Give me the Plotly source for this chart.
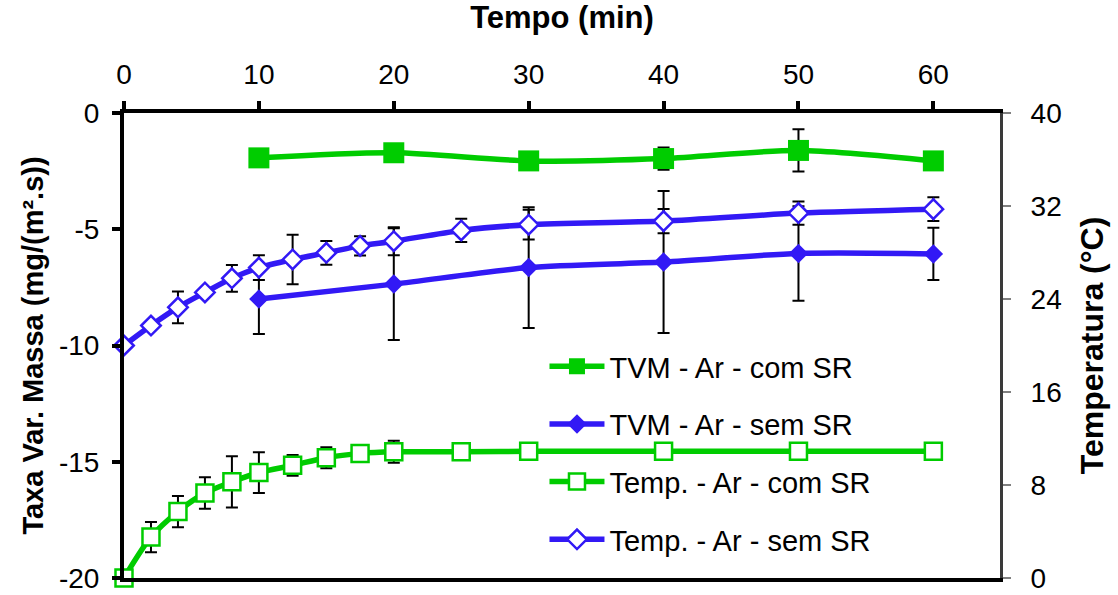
import plotly.graph_objects as go

# ---- data ----
time_tvm = [10, 20, 30, 40, 50, 60]
time_temp = [0, 2, 4, 6, 8, 10, 12.5, 15, 17.5, 20, 25, 30, 40, 50, 60]

tvm_com = [-1.93, -1.71, -2.06, -1.96, -1.61, -2.06]
tvm_com_err = [0, 0, 0, 0.48, 0.91, 0]

tvm_sem = [-8.0, -7.36, -6.65, -6.41, -6.04, -6.06]
tvm_sem_err = [1.5, 2.4, 2.6, 3.05, 2.03, 1.12]

temp_com = [0, 3.52, 5.71, 7.31, 8.27, 9.07, 9.69, 10.35, 10.72, 10.86, 10.85, 10.9, 10.9, 10.9, 10.9]
temp_com_err = [0, 1.3, 1.35, 1.35, 2.2, 1.75, 0.9, 0.9, 0, 0.95, 0, 0, 0, 0, 0]

temp_sem = [20.0, 21.72, 23.28, 24.56, 25.78, 26.7, 27.4, 27.97, 28.57, 28.97, 29.9, 30.39, 30.7, 31.39, 31.73]
temp_sem_err = [0, 0, 1.37, 0, 1.15, 1.07, 2.13, 1.03, 0.83, 1.2, 1.0, 1.28, 1.05, 1.0, 1.02]

x_ticks = [0, 10, 20, 30, 40, 50, 60]
y_ticks = [-20, -15, -10, -5, 0]
y_ticktext = ["-20", "-15", "-10", "-5", "0"]
y2_ticks = [0, 8, 16, 24, 32, 40]

names = ["TVM - Ar - com SR", "TVM - Ar - sem SR", "Temp. - Ar - com SR", "Temp. - Ar - sem SR"]

GREEN = "#00CC00"
BLUE = "#3219F5"
FONT = "Liberation Sans, Arial, sans-serif"


def err(a):
    return [v if v else None for v in a]


def ebar(a):
    return dict(type="data", array=err(a), color="black", thickness=2, width=6, visible=True)


fig = go.Figure()

fig.add_trace(go.Scatter(
    x=time_tvm, y=tvm_com, name=names[0], legendgroup="a", yaxis="y",
    mode="lines+markers", line=dict(color=GREEN, width=5.5, shape="spline", smoothing=0.8),
    marker=dict(symbol="square", size=21, color=GREEN, line=dict(color=GREEN, width=0)),
    error_y=ebar(tvm_com_err), cliponaxis=False))

fig.add_trace(go.Scatter(
    x=time_tvm, y=tvm_sem, name=names[1], legendgroup="b", yaxis="y",
    mode="lines+markers", line=dict(color=BLUE, width=5.5, shape="spline", smoothing=0.8),
    marker=dict(symbol="diamond", size=15, color=BLUE, line=dict(color=BLUE, width=0)),
    error_y=ebar(tvm_sem_err), cliponaxis=False))

fig.add_trace(go.Scatter(
    x=time_temp, y=temp_com, name=names[2], legendgroup="c", yaxis="y2",
    mode="lines+markers", line=dict(color=GREEN, width=5.5, shape="spline", smoothing=0.8),
    marker=dict(symbol="square", size=17, color="white", line=dict(color=GREEN, width=2.5)),
    error_y=ebar(temp_com_err), cliponaxis=False))

fig.add_trace(go.Scatter(
    x=time_temp, y=temp_sem, name=names[3], legendgroup="d", yaxis="y2",
    mode="lines+markers", line=dict(color=BLUE, width=5.5, shape="spline", smoothing=0.8),
    marker=dict(symbol="diamond", size=15, color="white", line=dict(color=BLUE, width=2.5)),
    error_y=ebar(temp_sem_err), cliponaxis=False))

fig.update_layout(
    width=1118, height=595,
    margin=dict(l=124, r=118, t=113, b=17, autoexpand=False),
    paper_bgcolor="white", plot_bgcolor="white",
    font=dict(family=FONT, size=28, color="black"),
    showlegend=True,
    legend=dict(x=0.48, y=0.51, xanchor="left", yanchor="top",
                bgcolor="rgba(0,0,0,0)", font=dict(size=29, family=FONT),
                tracegroupgap=17, itemwidth=55, traceorder="grouped"),
    xaxis=dict(side="top", range=[0, 64.94], tickvals=x_ticks, showgrid=False, zeroline=False,
               showline=True, linecolor="black", linewidth=4, mirror=True,
               ticks="outside", ticklen=8, tickwidth=4, tickcolor="black",
               ticklabelstandoff=6, ticklabeloverflow="allow", automargin=False,
               title=dict(text="Tempo (min)", font=dict(size=31, weight="bold"), standoff=23)),
    yaxis=dict(range=[-20, 0], tickvals=y_ticks, ticktext=y_ticktext, showgrid=False, zeroline=False,
               showline=True, linecolor="black", linewidth=4,
               ticks="outside", ticklen=8, tickwidth=4, tickcolor="black",
               ticklabelstandoff=7, ticklabeloverflow="allow", automargin=False,
               title=dict(text="Taxa Var. Massa (mg/(m².s))", font=dict(size=29, weight="bold"), standoff=8)),
    yaxis2=dict(overlaying="y", side="right", range=[0, 40], tickvals=y2_ticks, showgrid=False, zeroline=False,
                showline=True, linecolor="#3a3a3a", linewidth=3,
                ticks="outside", ticklen=8, tickwidth=1.5, tickcolor="#808080",
                ticklabelstandoff=14, ticklabeloverflow="allow", automargin=False,
                title=dict(text="Temperatura (°C)", font=dict(size=32, weight="bold"), standoff=20)),
)

fig.write_html("out.html", config={"displayModeBar": False},
               post_script="document.body.style.margin='0px';")
